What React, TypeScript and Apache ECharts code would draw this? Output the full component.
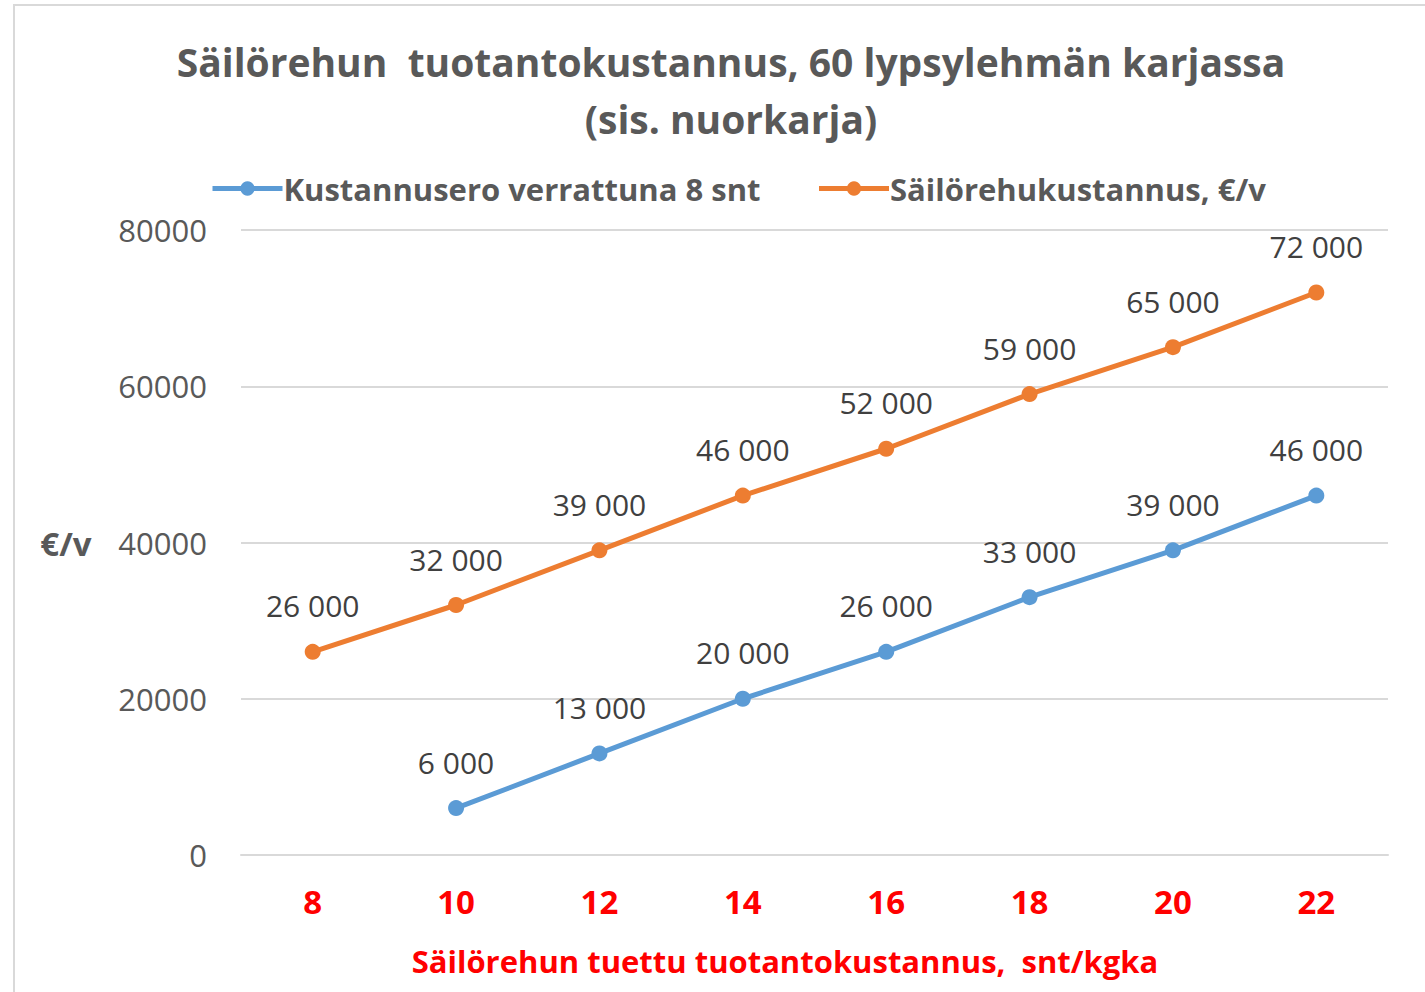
import React, { useEffect, useRef } from "react";
import * as echarts from "echarts";

const categories = ["8", "10", "12", "14", "16", "18", "20", "22"];
const diffValues: (number | null)[] = [null, 6000, 13000, 20000, 26000, 33000, 39000, 46000];
const costValues: number[] = [26000, 32000, 39000, 46000, 52000, 59000, 65000, 72000];
const seriesNames = ["Kustannusero verrattuna 8 snt", "Säilörehukustannus, €/v"];
const titleText = "Säilörehun  tuotantokustannus, 60 lypsylehmän karjassa\n(sis. nuorkarja)";
const xAxisName = "Säilörehun tuettu tuotantokustannus,  snt/kgka";
const yAxisName = "€/v";

const FONT = "'Open Sans', Lato, sans-serif";

const fmt = (v: number) => {
  const s = String(Math.round(v));
  return s.replace(/\B(?=(\d{3})+(?!\d))/g, " ");
};

export default function App() {
  const ref = useRef<HTMLDivElement>(null);
  useEffect(() => {
    if (!ref.current) return;
    const chart = echarts.init(ref.current, undefined, { renderer: "svg" });
    const labelCfg = {
      show: true,
      position: "top",
      distance: 23,
      fontSize: 30,
      color: "#404040",
      fontFamily: FONT,
      formatter: (p: any) => fmt(p.value),
    };
    chart.setOption({
      animation: false,
      backgroundColor: "#ffffff",
      textStyle: { fontFamily: FONT },
      title: {
        text: titleText,
        left: 726,
        top: 28,
        textAlign: "center",
        textStyle: {
          fontFamily: FONT,
          fontSize: 39,
          fontWeight: "bold",
          color: "#595959",
          lineHeight: 57,
        },
      },
      legend: {
        top: 168,
        left: 205,
        itemWidth: 70,
        itemHeight: 18,
        itemGap: 56,
        lineStyle: { width: 5 },
        textStyle: {
          fontFamily: FONT,
          fontSize: 31,
          fontWeight: "bold",
          color: "#595959",
          padding: [0, 0, 0, -4],
        },
        data: seriesNames,
      },
      grid: { left: 241, right: 37, top: 230, bottom: 137, containLabel: false },
      xAxis: {
        type: "category",
        data: categories,
        boundaryGap: true,
        axisLine: { show: true, lineStyle: { color: "#d9d9d9", width: 2 } },
        axisTick: { show: false },
        axisLabel: {
          margin: 30,
          fontSize: 33,
          fontWeight: "bold",
          color: "#ff0000",
          fontFamily: FONT,
        },
      },
      yAxis: {
        type: "value",
        min: 0,
        max: 80000,
        interval: 20000,
        axisLine: { show: false },
        axisTick: { show: false },
        splitLine: { lineStyle: { color: "#d9d9d9", width: 2 } },
        axisLabel: {
          margin: 34,
          fontSize: 31,
          color: "#595959",
          fontFamily: FONT,
          formatter: (v: number) => String(v),
        },
      },
      graphic: [
        {
          type: "rect",
          shape: { x: 14, y: 5, width: 1440, height: 1000 },
          style: { fill: "none", stroke: "#d9d9d9", lineWidth: 2 },
          silent: true,
        },
        {
          type: "text",
          x: 785,
          y: 961,
          style: {
            text: xAxisName,
            fontSize: 31,
            fontWeight: "bold",
            fill: "#ff0000",
            fontFamily: FONT,
            align: "center",
            verticalAlign: "middle",
          },
        },
        {
          type: "text",
          x: 66,
          y: 543,
          style: {
            text: yAxisName,
            fontSize: 33,
            fontWeight: "bold",
            fill: "#595959",
            fontFamily: FONT,
            align: "center",
            verticalAlign: "middle",
          },
        },
      ],
      series: [
        {
          name: seriesNames[0],
          type: "line",
          data: diffValues,
          color: "#5B9BD5",
          lineStyle: { width: 5, color: "#5B9BD5" },
          itemStyle: { color: "#5B9BD5" },
          symbol: "circle",
          symbolSize: 16,
          label: labelCfg,
        },
        {
          name: seriesNames[1],
          type: "line",
          data: costValues,
          color: "#ED7D31",
          lineStyle: { width: 5, color: "#ED7D31" },
          itemStyle: { color: "#ED7D31" },
          symbol: "circle",
          symbolSize: 16,
          label: labelCfg,
        },
      ],
    });
    return () => chart.dispose();
  }, []);
  return (
    <div
      ref={ref}
      style={{ position: "absolute", left: 0, top: 0, width: 1425, height: 992 }}
    />
  );
}
